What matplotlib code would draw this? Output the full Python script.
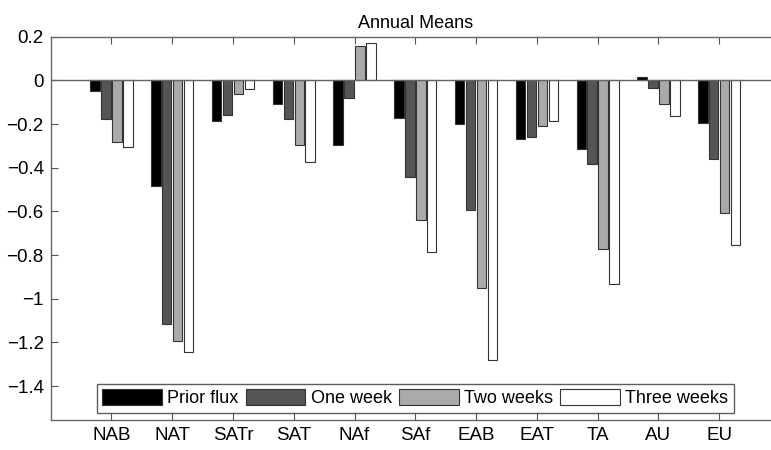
import numpy as np
import matplotlib
matplotlib.use('Agg')
import matplotlib.pyplot as plt

# ================= DATI =================
regions = ['NAB', 'NAT', 'SATr', 'SAT', 'NAf', 'SAf', 'EAB', 'EAT', 'TA', 'AU', 'EU']
prior_flux = [-0.047, -0.484, -0.188, -0.110, -0.295, -0.172, -0.201, -0.269, -0.316, 0.014, -0.194]
one_week = [-0.177, -1.114, -0.157, -0.176, -0.082, -0.443, -0.592, -0.261, -0.382, -0.037, -0.362]
two_weeks = [-0.281, -1.195, -0.061, -0.296, 0.157, -0.641, -0.951, -0.208, -0.774, -0.110, -0.609]
three_weeks = [-0.305, -1.242, -0.041, -0.372, 0.171, -0.784, -1.282, -0.188, -0.934, -0.165, -0.755]
series_names = ['Prior flux', 'One week', 'Two weeks', 'Three weeks']
# ========================================

plt.rcParams['font.family'] = ['Liberation Sans', 'DejaVu Sans']

fig = plt.figure(figsize=(7.71, 4.5), dpi=100)
# l'asse destro finisce fuori dall'immagine (xlim 0..12)
ax = fig.add_axes([50.7 / 771, 30 / 450, (780 - 50.7) / 771, (420 - 36.7) / 450])

x = np.arange(1, len(regions) + 1)
pitch = 0.18
width = 0.155
colors = ['#000000', '#555555', '#aaaaaa', '#ffffff']
all_series = [prior_flux, one_week, two_weeks, three_weeks]

for i, (vals, name, col) in enumerate(zip(all_series, series_names, colors)):
    ax.bar(x + (i - 1.5) * pitch, vals, width, color=col, edgecolor='#333333',
           linewidth=0.8, label=name, zorder=2)

ax.axhline(0, color='#666666', linewidth=1.0, zorder=3)

ax.set_xlim(0, 12)
ax.set_ylim(-1.555, 0.2)
ax.set_xticks(x)
ax.set_xticklabels(regions)
ax.set_yticks(np.arange(-1.4, 0.21, 0.2))
ax.set_yticklabels(['\u22121.4', '\u22121.2', '\u22121', '\u22120.8', '\u22120.6',
                    '\u22120.4', '\u22120.2', '0', '0.2'])
ax.tick_params(direction='in', length=5, width=0.8, color='#555555',
               labelsize=13.5, top=True, right=False, pad=5)
for side in ['left', 'bottom', 'top']:
    ax.spines[side].set_color('#666666')
    ax.spines[side].set_linewidth(1.0)
ax.spines['right'].set_visible(False)

ax.set_title('Annual Means', fontsize=13, pad=6)

leg = ax.legend(ncol=4, loc='lower left', fontsize=13, frameon=True,
                fancybox=False, edgecolor='#333333', handlelength=3.3,
                handleheight=1.0, columnspacing=0.4, handletextpad=0.3,
                borderpad=0.3, borderaxespad=0)
leg.get_frame().set_linewidth(1.0)
# posizione del riquadro legenda in pixel
leg.set_bbox_to_anchor((96.7 / 771, 1 - 412.7 / 450), transform=fig.transFigure)

fig.savefig('out.png', dpi=100)
